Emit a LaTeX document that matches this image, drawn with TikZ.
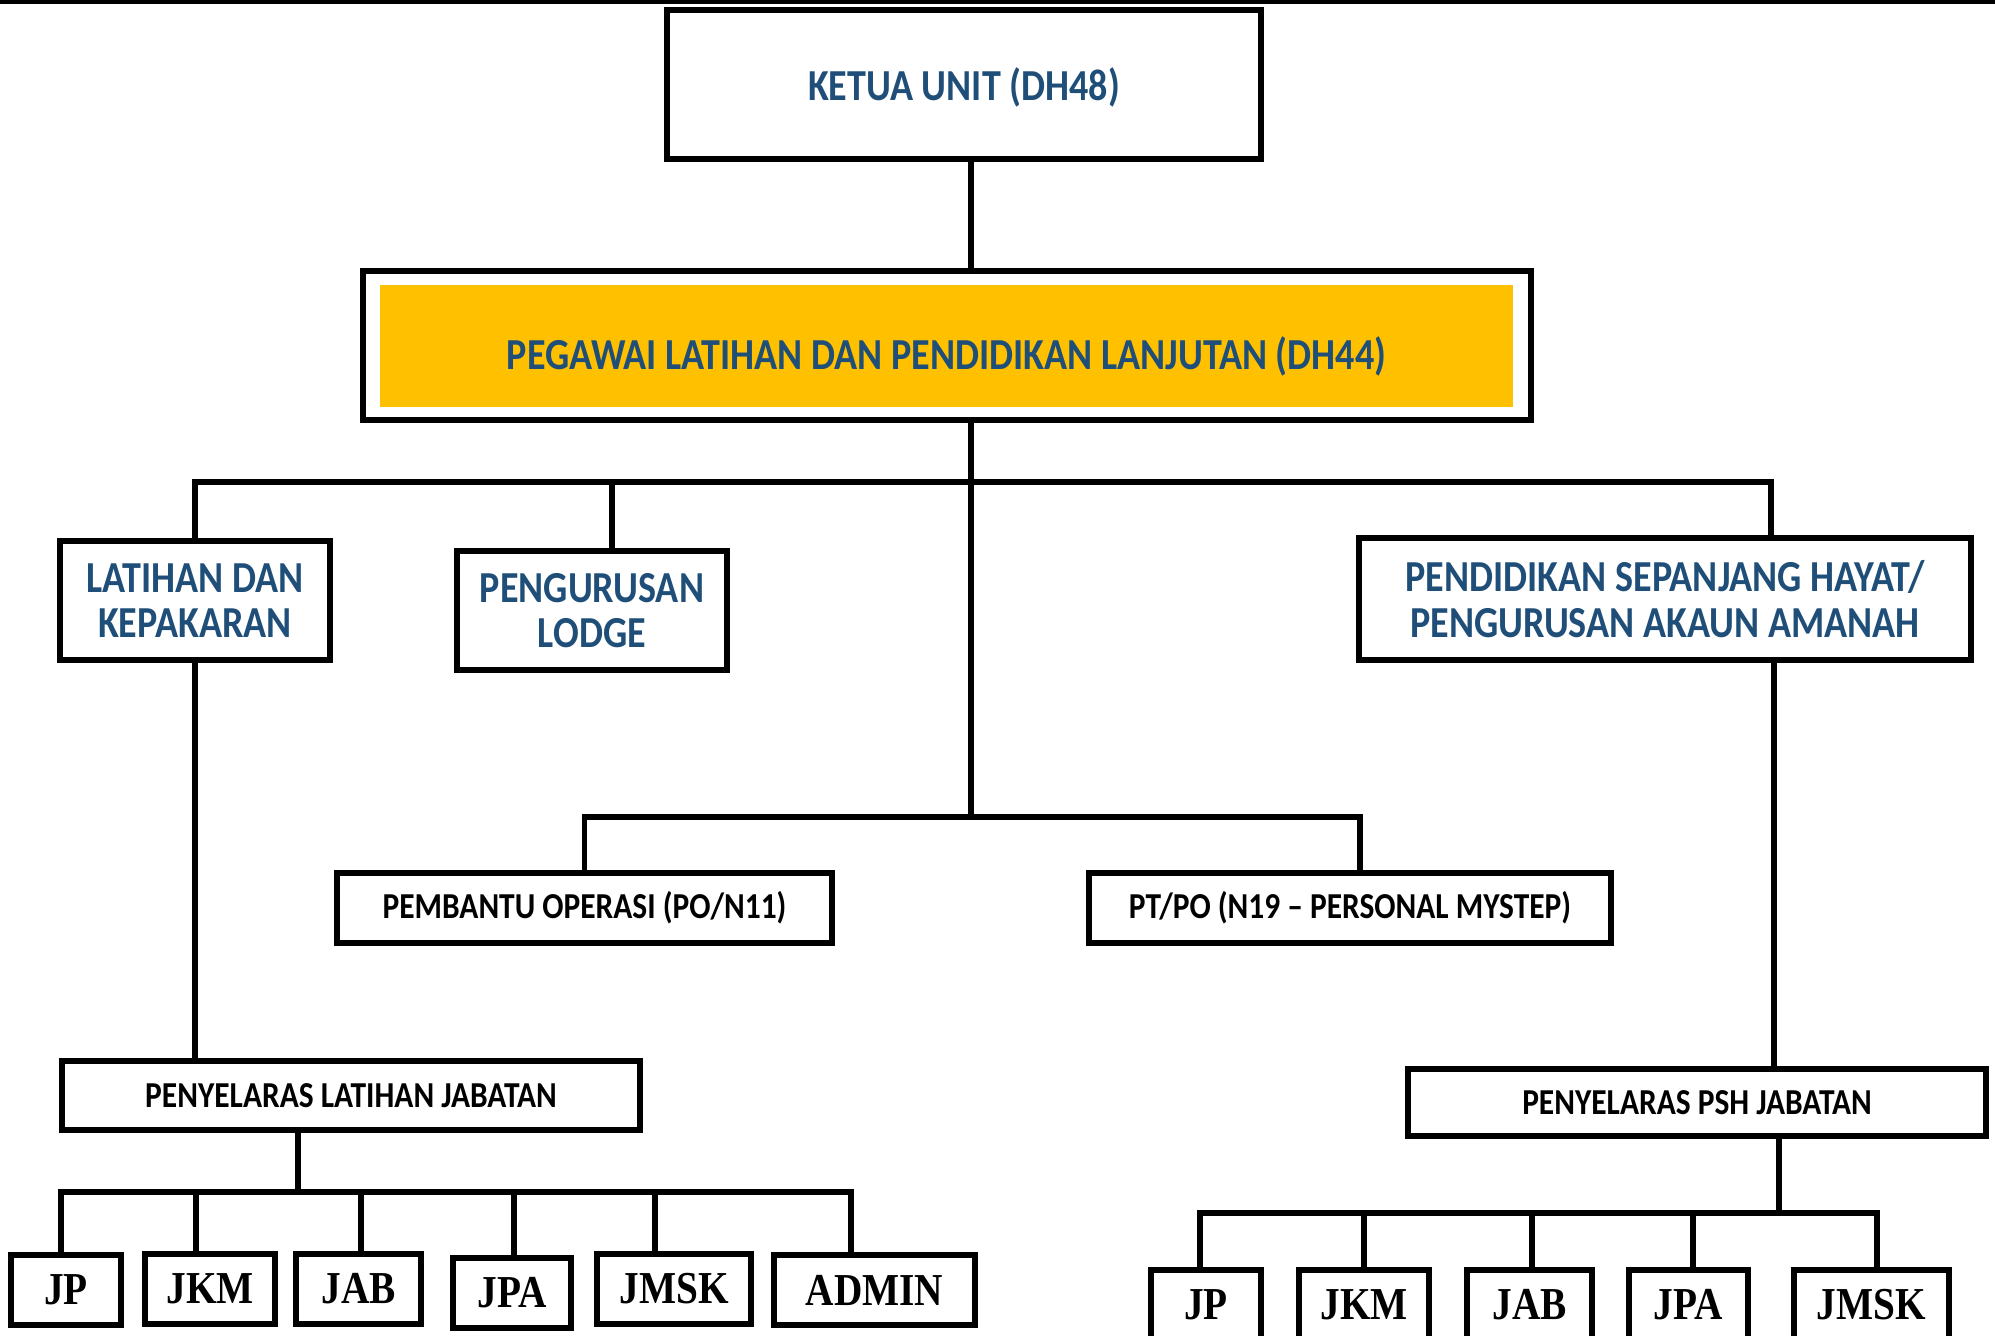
\documentclass[tikz,border=0pt]{standalone}
\usepackage{fontspec}
\setmainfont{Carlito}[FakeStretch=0.86]
\newfontfamily\timesfont{Liberation Serif}[FakeStretch=0.86]
\definecolor{birutua}{HTML}{1F4E79}
\definecolor{kuning}{HTML}{FFC000}
\tikzset{
  kotak/.style={draw, line width=1.7pt, inner sep=0pt, align=center},
  biru/.style={text=birutua, font=\bfseries\fontsize{12.6}{13}\selectfont},
  hitam/.style={font=\bfseries\fontsize{10.4}{11}\selectfont},
  jabatan/.style={kotak, minimum height=0.7cm, font=\timesfont\bfseries\fontsize{13}{13}\selectfont},
  garis/.style={line width=1.5pt, line cap=rect}
}
\begin{document}
\begin{tikzpicture}
\useasboundingbox (0,0) rectangle (19.95,-13.35);
\clip (0,0) rectangle (19.95,-13.35);
\draw[line width=1.2pt] (0,-0.02) -- (19.95,-0.02);

% Ketua dan pegawai
\node[kotak, biru, minimum width=5.94cm, minimum height=1.49cm] (ketua) at (9.64,-0.845) {\raisebox{0pt}[0.7em][0pt]{KETUA UNIT (DH48)}};
\node[kotak, minimum width=11.68cm, minimum height=1.49cm] (pegawai) at (9.47,-3.455) {};
\node[fill=kuning, biru, inner sep=0pt, minimum width=11.33cm, minimum height=1.22cm] (dh44) at (9.465,-3.46) {\raisebox{0pt}[1.05em][0pt]{PEGAWAI LATIHAN DAN PENDIDIKAN LANJUTAN (DH44)}};

% Unit di bawah pegawai
\node[kotak, biru, minimum width=2.70cm, minimum height=1.19cm] (latihan) at (1.95,-6.005) {LATIHAN DAN\\KEPAKARAN};
\node[kotak, biru, minimum width=2.70cm, minimum height=1.19cm] (lodge) at (5.92,-6.105) {PENGURUSAN\\LODGE};
\node[kotak, biru, minimum width=6.12cm, minimum height=1.22cm] (psh) at (16.65,-5.99) {PENDIDIKAN SEPANJANG HAYAT/\\PENGURUSAN AKAUN AMANAH};
\node[kotak, hitam, minimum width=4.95cm, minimum height=0.70cm] (pembantu) at (5.845,-9.08) {PEMBANTU OPERASI (PO/N11)};
\node[kotak, hitam, minimum width=5.22cm, minimum height=0.70cm] (ptpo) at (13.50,-9.08) {PT/PO (N19 – PERSONAL MYSTEP)};

% Penyelaras
\node[kotak, hitam, minimum width=5.78cm, minimum height=0.69cm] (penyLatihan) at (3.51,-10.955) {PENYELARAS LATIHAN JABATAN};
\node[kotak, hitam, minimum width=5.78cm, minimum height=0.67cm] (penyPsh) at (16.97,-11.025) {PENYELARAS PSH JABATAN};

% Jabatan kiri
\node[jabatan, minimum width=1.10cm] (jp) at (0.66,-12.9) {JP};
\node[jabatan, minimum width=1.30cm] (jkm) at (2.10,-12.885) {JKM};
\node[jabatan, minimum width=1.25cm] (jab) at (3.585,-12.885) {JAB};
\node[jabatan, minimum width=1.18cm] (jpa) at (5.12,-12.925) {JPA};
\node[jabatan, minimum width=1.54cm] (jmsk) at (6.74,-12.885) {JMSK};
\node[jabatan, minimum width=2.01cm] (admin) at (8.745,-12.9) {ADMIN};

% Jabatan kanan
\node[jabatan, minimum width=1.10cm] (jp2) at (12.06,-13.05) {JP};
\node[jabatan, minimum width=1.30cm] (jkm2) at (13.64,-13.05) {JKM};
\node[jabatan, minimum width=1.25cm] (jab2) at (15.295,-13.05) {JAB};
\node[jabatan, minimum width=1.19cm] (jpa2) at (16.885,-13.05) {JPA};
\node[jabatan, minimum width=1.55cm] (jmsk2) at (18.715,-13.05) {JMSK};

% Garisan
\coordinate (atas) at (9.71,-4.82);
\coordinate (tengah) at (9.71,-8.17);
\coordinate (kiri) at (2.98,-11.92);
\coordinate (kanan) at (17.79,-12.13);
\draw[garis] (ketua.south -| atas) -- (pegawai.north -| atas);
\draw[garis] (pegawai.south -| atas) -- (tengah);
\draw[garis] (latihan.north) |- (atas) -| ([xshift=1.06cm]psh.north);
\draw[garis] ([xshift=2mm]lodge.north) -- ([xshift=2mm]lodge.north |- atas);
\draw[garis] (pembantu.north) |- (tengah) -| ([xshift=1mm]ptpo.north);
\draw[garis] (latihan.south) -- (latihan.south |- penyLatihan.north);
\draw[garis] ([xshift=1.09cm]psh.south) -- ([xshift=1.09cm]psh.south |- penyPsh.north);

\draw[garis] (penyLatihan.south -| kiri) -- (kiri);
\draw[garis] ([xshift=-0.05cm]jp.north |- kiri) -- ([xshift=-0.235cm]admin.north |- kiri);
\foreach \n/\dx in {jp/-0.05,jkm/-0.14,jab/0.025,jpa/0.02,jmsk/-0.19,admin/-0.235}
  \draw[garis] ([xshift=\dx cm]\n.north) -- ([xshift=\dx cm]\n.north |- kiri);

\draw[garis] (penyPsh.south -| kanan) -- (kanan);
\draw[garis] ([xshift=-0.06cm]jp2.north |- kanan) -- ([xshift=0.055cm]jmsk2.north |- kanan);
\foreach \n/\dx in {jp2/-0.06,jkm2/0,jab2/0.025,jpa2/0.045,jmsk2/0.055}
  \draw[garis] ([xshift=\dx cm]\n.north) -- ([xshift=\dx cm]\n.north |- kanan);
\end{tikzpicture}
\end{document}
